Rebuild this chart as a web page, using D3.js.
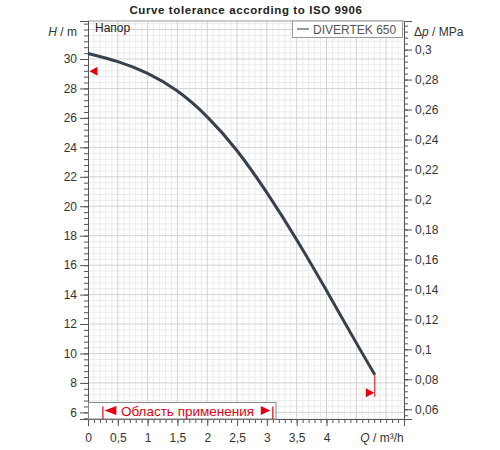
<!DOCTYPE html>
<html>
<head>
<meta charset="utf-8">
<script src="https://cdn.jsdelivr.net/npm/d3@7"></script>
<style>
  html, body { margin: 0; padding: 0; background: #fff; }
  svg { display: block; font-family: "Liberation Sans", Arial, sans-serif; }
</style>
</head>
<body>
<svg id="chart" width="500" height="450"></svg>
<script>
// ---- data ----
const flowQ = [0, 0.5, 1, 1.5, 2, 2.5, 3, 3.5, 4, 4.5, 4.81];
const headH = [30.37, 29.82, 29.02, 27.82, 26.07, 23.77, 20.92, 17.72, 14.27, 10.72, 8.56];
const seriesName = "DIVERTEK 650";
const xTickValues = [0, 0.5, 1, 1.5, 2, 2.5, 3, 3.5, 4];
const xTickLabels = ["0", "0,5", "1", "1,5", "2", "2,5", "3", "3,5", "4"];
const hTickValues = [6, 8, 10, 12, 14, 16, 18, 20, 22, 24, 26, 28, 30];
const pTickValues = [0.06, 0.08, 0.1, 0.12, 0.14, 0.16, 0.18, 0.2, 0.22, 0.24, 0.26, 0.28, 0.3];
const pTickLabels = ["0,06", "0,08", "0,1", "0,12", "0,14", "0,16", "0,18", "0,2", "0,22", "0,24", "0,26", "0,28", "0,3"];
const rangeQ = [0.25, 3.1];            // operating range (Область применения)
const tolLeft = { q: 0, h: 29.16 };    // tolerance marker at start
const tolRight = { q: 4.81, h: 7.33 }; // tolerance marker at end
const titleText = "Curve tolerance according to ISO 9906";
const rangeText = "Область применения";

// ---- layout ----
const L = 88, R = 404, T = 21, B = 419;
const x = d3.scaleLinear().domain([0, 5.3]).range([L, R]);
const y = d3.scaleLinear().domain([5.55, 32.58]).range([B, T]);
const yp = d3.scaleLinear().domain([0.0535, 0.3191]).range([B, T]);

const svg = d3.select("#chart");

// grid
const g = svg.append("g");
const minorX = d3.range(1, 54).map(i => i / 10).filter(v => Math.round(v * 10) % 5 !== 0);
const majorX = d3.range(1, 11).map(i => i * 0.5);
const minorY = d3.range(14, 82).map(i => i * 0.4).filter(v => Math.abs(v / 2 - Math.round(v / 2)) > 1e-6);
const majorY = d3.range(6, 33, 2);
g.selectAll(".mx").data(minorX).join("line")
  .attr("x1", d => x(d)).attr("x2", d => x(d)).attr("y1", T).attr("y2", B)
  .attr("stroke", "#ebebeb").attr("stroke-width", 1);
g.selectAll(".my").data(minorY).join("line")
  .attr("y1", d => y(d)).attr("y2", d => y(d)).attr("x1", L).attr("x2", R)
  .attr("stroke", "#ebebeb").attr("stroke-width", 1);
g.selectAll(".Mx").data(majorX).join("line")
  .attr("x1", d => x(d)).attr("x2", d => x(d)).attr("y1", T).attr("y2", B)
  .attr("stroke", "#d2d2d2").attr("stroke-width", 1);
g.selectAll(".My").data(majorY).join("line")
  .attr("y1", d => y(d)).attr("y2", d => y(d)).attr("x1", L).attr("x2", R)
  .attr("stroke", "#d2d2d2").attr("stroke-width", 1);

// top border
svg.append("line").attr("x1", L).attr("x2", R).attr("y1", T).attr("y2", T)
  .attr("stroke", "#999");

// axes
function styleAxis(sel) {
  sel.select(".domain").attr("stroke", "#555");
  sel.selectAll(".tick line").attr("stroke", "#555");
  sel.selectAll("text").attr("fill", "#333").style("font-size", "12px")
    .style("font-family", "'Liberation Sans', Arial, sans-serif");
}
// bottom
const xMinorTicks = d3.range(0, 54).map(i => i / 10);
svg.append("g").attr("transform", `translate(0,${B})`)
  .call(d3.axisBottom(x).tickValues(xMinorTicks).tickSize(4).tickFormat(""))
  .call(styleAxis);
svg.append("g").attr("transform", `translate(0,${B})`)
  .call(d3.axisBottom(x).tickValues(xTickValues).tickSize(7).tickPadding(7)
    .tickFormat((d, i) => xTickLabels[i]))
  .call(styleAxis);
// left
svg.append("g").attr("transform", `translate(${L},0)`)
  .call(d3.axisLeft(y).tickValues(d3.range(14, 82).map(i => i * 0.4)).tickSize(4).tickFormat(""))
  .call(styleAxis);
svg.append("g").attr("transform", `translate(${L},0)`)
  .call(d3.axisLeft(y).tickValues(hTickValues).tickSize(8).tickPadding(3).tickFormat(d3.format("d")))
  .call(styleAxis);
// right
svg.append("g").attr("transform", `translate(${R},0)`)
  .call(d3.axisRight(yp).tickValues(d3.range(14, 80).map(i => i * 0.004)).tickSize(4).tickFormat(""))
  .call(styleAxis);
svg.append("g").attr("transform", `translate(${R},0)`)
  .call(d3.axisRight(yp).tickValues(pTickValues).tickSize(8).tickPadding(3)
    .tickFormat((d, i) => pTickLabels[i]))
  .call(styleAxis);

// curve
const pts = flowQ.map((q, i) => [q, headH[i]]);
svg.append("path").datum(pts)
  .attr("d", d3.line().x(d => x(d[0])).y(d => y(d[1])).curve(d3.curveNatural))
  .attr("fill", "none").attr("stroke", "#36414b").attr("stroke-width", 3)
  .attr("stroke-linecap", "butt");

// tolerance markers
const red = "#e3000f";
svg.append("path")
  .attr("d", `M${x(tolLeft.q) + 1.5},${y(tolLeft.h)} l8,-4.5 l0,9 z`)
  .attr("fill", red);
svg.append("line")
  .attr("x1", x(tolRight.q)).attr("x2", x(tolRight.q))
  .attr("y1", y(headH[headH.length - 1])).attr("y2", y(tolRight.h) + 4)
  .attr("stroke", red).attr("stroke-width", 1);
svg.append("path")
  .attr("d", `M${x(tolRight.q) - 0.5},${y(tolRight.h)} l-8.5,-4.5 l0,9 z`)
  .attr("fill", red);

// operating range box
const boxTop = 402.5;
svg.append("rect").attr("x", L + 0.5).attr("y", boxTop).attr("width", 187.5).attr("height", B - boxTop)
  .attr("fill", "#fff").attr("stroke", "#888").attr("stroke-width", 1);
rangeQ.forEach(q => {
  svg.append("line").attr("x1", x(q)).attr("x2", x(q)).attr("y1", 406.5).attr("y2", B)
    .attr("stroke", red).attr("stroke-width", 1.2);
});
const ymid = 410.5;
svg.append("path").attr("d", `M${x(rangeQ[0]) + 1.5},${ymid} l12,-4.5 l0,9 z`).attr("fill", red);
svg.append("path").attr("d", `M${x(rangeQ[1]) - 2.5},${ymid} l-9.5,-4.5 l0,9 z`).attr("fill", red);
svg.append("text").attr("x", 187.5).attr("y", 415.5).attr("text-anchor", "middle")
  .attr("fill", red).style("font-size", "13.5px").text(rangeText);

// legend
svg.append("rect").attr("x", 292.5).attr("y", T).attr("width", 110).attr("height", 16.5)
  .attr("fill", "#fff").attr("stroke", "#999");
svg.append("line").attr("x1", 297).attr("x2", 309).attr("y1", 29).attr("y2", 29)
  .attr("stroke", "#777").attr("stroke-width", 1.5);
svg.append("text").attr("x", 313).attr("y", 33.5).attr("fill", "#555")
  .style("font-size", "12px").text(seriesName);

// titles / labels
svg.append("text").attr("x", 246).attr("y", 14).attr("text-anchor", "middle")
  .attr("fill", "#222").style("font-size", "11.5px").style("font-weight", "bold")
  .style("letter-spacing", "0.6px").text(titleText);
svg.append("text").attr("x", 95).attr("y", 31.5).attr("fill", "#222")
  .style("font-size", "12px").text("Напор");

const hl = svg.append("text").attr("x", 77).attr("y", 36).attr("text-anchor", "end")
  .attr("fill", "#333").style("font-size", "12px");
hl.append("tspan").style("font-style", "italic").text("H");
hl.append("tspan").text(" / m");

const pl = svg.append("text").attr("x", 414).attr("y", 36).attr("fill", "#333").style("font-size", "12px");
pl.append("tspan").text("Δ");
pl.append("tspan").style("font-style", "italic").text("p");
pl.append("tspan").text(" / MPa");

const ql = svg.append("text").attr("x", 382).attr("y", 441.5).attr("text-anchor", "middle")
  .attr("fill", "#333").style("font-size", "12px");
ql.append("tspan").style("font-style", "italic").text("Q");
ql.append("tspan").text(" / m³/h");
</script>
</body>
</html>
